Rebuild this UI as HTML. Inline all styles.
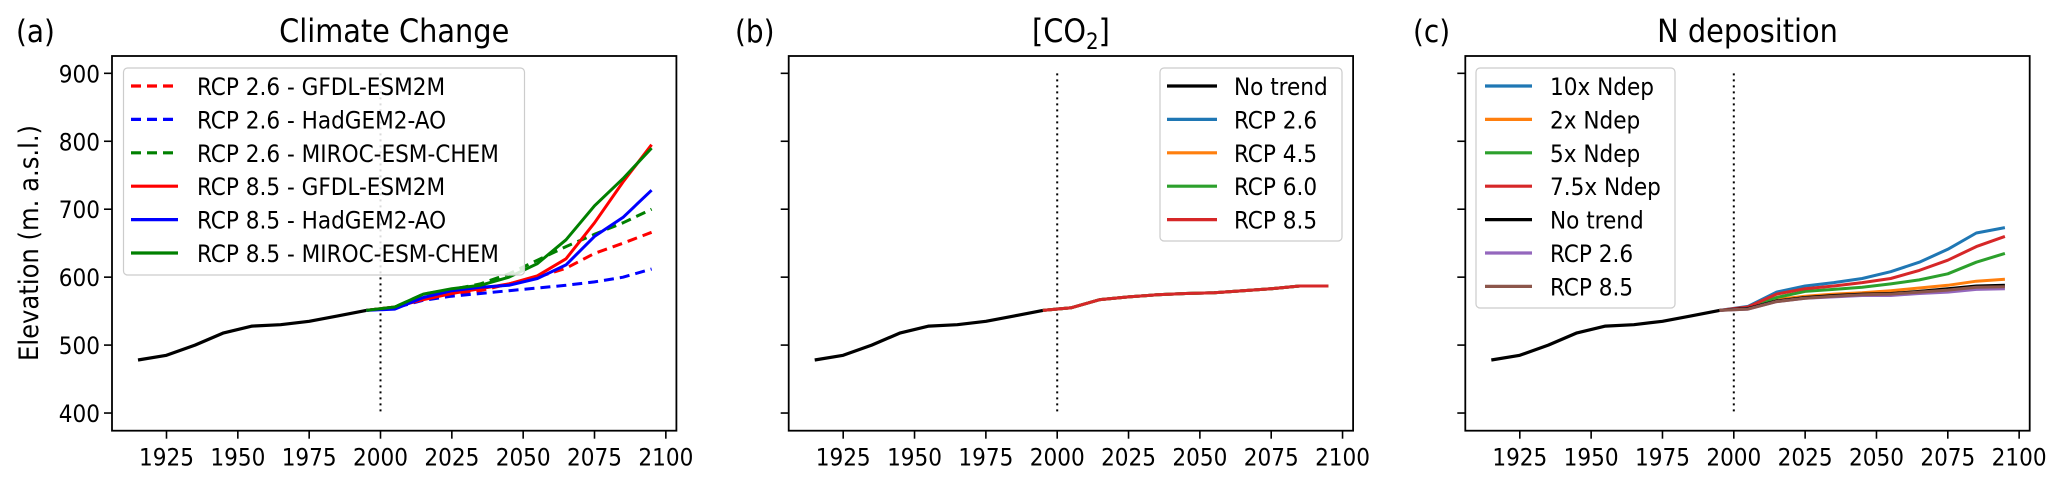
<!DOCTYPE html>
<html><head><meta charset="utf-8"><style>
html,body{margin:0;padding:0;background:#fff;}
svg{display:block;font-family:"DejaVu Sans Condensed","DejaVu Sans","Liberation Sans",sans-serif;}
</style></head><body>
<svg id="fig" width="2067" height="481" viewBox="0 0 2067 481" xmlns="http://www.w3.org/2000/svg"></svg>
<script>
const histYears=[1915,1925,1935,1945,1955,1965,1975,1985,1995];
const histValues=[478,485,500,518,528,530,535,543,551];
const futYears=[1995,2005,2015,2025,2035,2045,2055,2065,2075,2085,2095];
const xTicks=[1925,1950,1975,2000,2025,2050,2075,2100];
const yTicks=[400,500,600,700,800,900];
// panel a
const aNames=["RCP 2.6 - GFDL-ESM2M","RCP 2.6 - HadGEM2-AO","RCP 2.6 - MIROC-ESM-CHEM","RCP 8.5 - GFDL-ESM2M","RCP 8.5 - HadGEM2-AO","RCP 8.5 - MIROC-ESM-CHEM"];
const aColors=["#ff0000","#0000ff","#008000","#ff0000","#0000ff","#008000"];
const aDashed=[true,true,true,false,false,false];
const a26gfdl=[551,556,567,575,580,590,600,613,635,650,666];
const a26had=[551,555,566,572,576,580,584,588,593,600,612];
const a26miroc=[551,556,575,582,590,605,625,645,663,680,700];
const a85gfdl=[551,556,567,576,583,590,602,627,680,740,795];
const a85had=[551,553,570,580,585,588,598,618,660,688,728];
const a85miroc=[551,556,575,583,588,600,620,655,705,745,790];
// panel b
const bNames=["No trend","RCP 2.6","RCP 4.5","RCP 6.0","RCP 8.5"];
const bColors=["#000000","#1f77b4","#ff7f0e","#2ca02c","#d62728"];
const bNoTrend=[551,555,567,571,574,576,577,580,583,587,587];
const b26=[551,555,567,571,574,576,577,580,583,587,587];
const b45=[551,555,567,571,574,576,577,580,583,587,587];
const b60=[551,555,567,571,574,576,577,580,583,587,587];
const b85=[551,555,567,571,574,576,577,580,583,587,587];
// panel c
const cNames=["10x Ndep","2x Ndep","5x Ndep","7.5x Ndep","No trend","RCP 2.6","RCP 8.5"];
const cColors=["#1f77b4","#ff7f0e","#2ca02c","#d62728","#000000","#9467bd","#8c564b"];
const c10x=[551,557,578,587,592,598,608,622,641,665,673];
const c2x=[551,554,567,572,575,577,580,584,588,594,597];
const c5x=[551,555,570,579,582,585,590,596,605,622,635];
const c75x=[551,556,575,583,587,592,598,610,625,645,660];
const cNoTrend=[551,554,565,570,573,575,576,579,583,587,588];
const c26=[551,553,564,569,571,573,573,576,578,582,583];
const c85=[551,553,564,569,572,574,575,578,581,585,586];

const NS="http://www.w3.org/2000/svg";
const svg=document.getElementById('fig');
function el(tag,attrs,parent,text){const e=document.createElementNS(NS,tag);for(const k in attrs)e.setAttribute(k,attrs[k]);if(text!==undefined)e.textContent=text;(parent||svg).appendChild(e);return e;}
const X0=1905.9,X1=2103.7,Y0=374,Y1=925.5,TOP=56,BOT=430.7,W=564.4;
function xs(left){return v=>left+(v-X0)/(X1-X0)*W;}
function ys(v){return BOT-(v-Y0)/(Y1-Y0)*(BOT-TOP);}
function pts(x,yrs,vals){return yrs.map((yr,i)=>x(yr).toFixed(1)+","+ys(vals[i]).toFixed(1)).join(" ");}

function panel(id,left,letter,title,showY){
  const g=el('g',{});
  
  
  const x=xs(left);
  const lab=el('text',{x:[16,735,1413][['a','b','c'].indexOf(id)],y:42,'font-size':31,fill:'#000'},g,letter);
  
  
  const t=el('text',{x:left+W/2,y:42,'font-size':32,'text-anchor':'middle',fill:'#000'},g);
  
  
  if(title==='CO2'){el('tspan',{},t,'[CO');el('tspan',{'font-size':22,dy:7},t,'2');el('tspan',{dy:-7},t,']');}
  else t.textContent=title;
  xTicks.forEach(v=>{
    el('line',{x1:x(v),x2:x(v),y1:BOT,y2:BOT+8,stroke:'#000','stroke-width':1.6},g);
    const tl=el('text',{x:x(v),y:BOT+35,'font-size':24,'text-anchor':'middle',fill:'#000'},g,v);
    
    
  });
  yTicks.forEach(v=>{
    el('line',{x1:left-8,x2:left,y1:ys(v),y2:ys(v),stroke:'#000','stroke-width':1.6},g);
    if(showY){const tl=el('text',{x:left-12,y:ys(v)+9,'font-size':24,'text-anchor':'end',fill:'#000'},g,v);
      
      }
  });
  const dl=el('line',{x1:x(2000),x2:x(2000),y1:ys(900),y2:ys(400),stroke:'#000','stroke-width':2,'stroke-dasharray':'2,4'},g);
  
  
  return {g,x};
}
function series(p,vals,color,dashed,name,width){
  const l=el('polyline',{points:pts(p.x,futYears,vals),fill:'none',stroke:color,'stroke-width':width||3,'stroke-dasharray':dashed?'10,6':'none','stroke-linejoin':'round'},p.g);
  
  
}
function hist(p){
  const l=el('polyline',{points:pts(p.x,histYears,histValues),fill:'none',stroke:'#000','stroke-width':3.2,'stroke-linejoin':'round'},p.g);
  
  
}
function frame(p,left){
  const r=el('rect',{x:left,y:TOP,width:W,height:BOT-TOP,fill:'none',stroke:'#000','stroke-width':1.8},p.g);
  
  
}
function legend(p,bx,by,bw,bh,lx1,lx2,tx,names,colors,dashed,name){
  const lg=el('g',{},p.g);
  
  
  el('rect',{x:bx,y:by,width:bw,height:bh,rx:4,fill:'#fff','fill-opacity':0.85,stroke:'#cccccc','stroke-width':1.2},lg);
  names.forEach((n,i)=>{
    const yy=by+18+i*33.4;
    el('line',{x1:lx1,x2:lx2,y1:yy,y2:yy,stroke:colors[i],'stroke-width':3.2,'stroke-dasharray':dashed&&dashed[i]?'10,6':'none'},lg);
    const tt=el('text',{x:tx,y:yy+9,'font-size':24,fill:'#000'},lg,n);
    
    
  });
}

// Panel a
const pa=panel('a',112,'(a)','Climate Change',true);
hist(pa);
[a26gfdl,a26had,a26miroc,a85gfdl,a85had,a85miroc].forEach((s,i)=>series(pa,s,aColors[i],aDashed[i],'series-'+aNames[i].toLowerCase().replace(/[^a-z0-9]+/g,'-')));
legend(pa,123.5,68,401,207,131,178,197,aNames,aColors,aDashed,'legend-a');
frame(pa,112);
const yl=el('text',{x:0,y:0,'font-size':27,'text-anchor':'middle',fill:'#000',transform:'translate(38,243) rotate(-90)'});


yl.textContent='Elevation (m. a.s.l.)';

// Panel b
const pb=panel('b',788.7,'(b)','CO2',false);
hist(pb);
[bNoTrend,b26,b45,b60,b85].forEach((s,i)=>series(pb,s,bColors[i],false,'series-co2-'+bNames[i].toLowerCase().replace(/[^a-z0-9]+/g,'-')));
legend(pb,1160,68,182,173,1167,1217,1234,bNames,bColors,null,'legend-b');
frame(pb,788.7);

// Panel c
const pc=panel('c',1465.3,'(c)','N deposition',false);
hist(pc);
[c10x,c2x,c5x,c75x,cNoTrend,c26,c85].forEach((s,i)=>series(pc,s,cColors[i],false,'series-ndep-'+cNames[i].toLowerCase().replace(/[^a-z0-9]+/g,'-')));
legend(pc,1476,68,199,240,1485,1532,1550,cNames,cColors,null,'legend-c');
frame(pc,1465.3);
</script>
</body></html>
